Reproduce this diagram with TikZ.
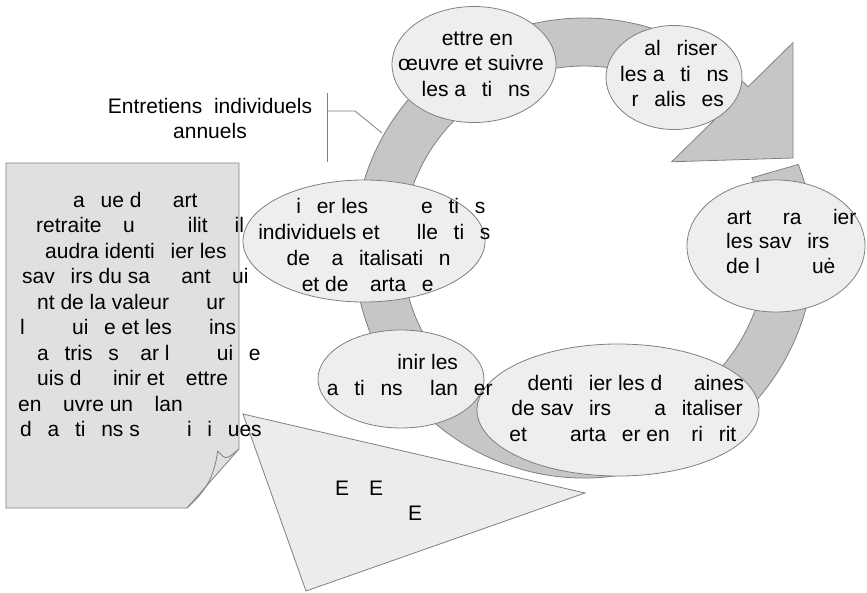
\documentclass[tikz,border=0pt]{standalone}
\usepackage{fontspec}
\setmainfont{Liberation Sans}
\usetikzlibrary{shapes.geometric}
\definecolor{linegray}{RGB}{128,128,128}
\definecolor{bubblefill}{RGB}{238,238,238}
\definecolor{bandfill}{RGB}{198,198,198}
\definecolor{boxfill}{RGB}{224,224,224}
\definecolor{trifill}{RGB}{236,236,236}
% gap of n blank glyph cells
\newcommand\gp[1]{\hspace*{#1\dimexpr 15.75pt\relax}}
\begin{document}
\begin{tikzpicture}[x=1pt,y=-1pt,
  outl/.style={draw=linegray, line width=0.8pt},
  bubble/.style={ellipse, outl, fill=bubblefill, inner sep=0pt},
  txt/.style={font=\fontsize{21}{25.5}\selectfont, inner sep=0pt, anchor=base},
  txtl/.style={txt, anchor=base west}]
\useasboundingbox (0,0) rectangle (867,592);

% circular band arrow
\coordinate (ctr) at (584,248);
\path[outl, fill=bandfill]
  ([shift={(ctr)}]-21.3:230) arc[start angle=-21.3, end angle=315.5, radius=230]
  -- ([shift={(ctr)}]315.5:293)
  -- ([shift={(ctr)}]336.7:227.6)
  -- ([shift={(ctr)}]315.5:123)
  -- ([shift={(ctr)}]315.5:182)
  arc[start angle=315.5, end angle=-22.7, radius=182] -- cycle;

% stage bubbles
\node[bubble, minimum width=164pt, minimum height=116pt] (e1) at (474,64.5) {};
\node[bubble, minimum width=136pt, minimum height=104pt] (e2) at (674,77.5) {};
\node[bubble, minimum width=178pt, minimum height=132pt] (e3) at (776,246) {};
\node[bubble, minimum width=242pt, minimum height=122pt] (e6) at (364,241) {};
\node[bubble, minimum width=166pt, minimum height=98pt] (e5) at (401,379) {};
\node[bubble, minimum width=282pt, minimum height=132pt] (e4) at (618,410) {};

% callout bracket
\coordinate (cTop) at (327,93);
\coordinate (cBot) at (327,162);
\coordinate (cMid) at (327,111);
\coordinate (cElb) at (355,111);
\coordinate (cEnd) at (382,133);
\draw[linegray, line width=0.8pt] (cTop) -- (cBot);
\draw[linegray, line width=0.8pt] (cMid) -- (cElb) -- (cEnd);

% note sheet with folded corner
\coordinate (fTop) at (239,449);
\coordinate (fLow) at (187,508);
\coordinate (fIn) at (217.7,451);
\draw[outl, fill=boxfill] (6,163) -- (239,163) -- (fTop) -- (fLow) -- (6,508) -- cycle;
\draw[outl] (fIn) .. controls (226,460) .. (fTop);
\draw[outl] (fIn) .. controls (214,478) and (205,492) .. (fLow);

% pointer triangle
\draw[outl, fill=trifill] (243,414) -- (585,493) -- (306,591) -- cycle;

% texts
\node[txt] (lab1) at (210,113.5) {Entretiens\ \ individuels};
\node[txt] (lab2) at (210,138) {annuels};

\node[txt] (e1a) at (469.5,45) {\gp{1}ettre en};
\node[txt] (e1b) at (471,70.5) {œuvre et suivre};
\node[txt] (e1c) at (476,96) {les a\gp{1}ti\gp{1}ns};

\node[txt] (e2a) at (673,55.5) {\gp{1}al\gp{1}riser};
\node[txt] (e2b) at (674.5,81) {les a\gp{1}ti\gp{1}ns};
\node[txt] (e2c) at (677.7,106.5) {r\gp{1}alis\gp{1}es};

\node[txtl] (e3a) at (726.7,224) {art\gp{2}ra\gp{2}ier};
\node[txtl] (e3b) at (726,248.5) {les sav\gp{1}irs};
\node[txtl] (e3c) at (726,273) {de l\hspace*{52pt}uė};

\node[txt] (e4a) at (628,390.5) {\gp{1}denti\gp{1}ier les d\gp{2}aines};
\node[txt] (e4b) at (627,415.75) {de sav\gp{1}irs \gp{1} \gp{1}a\gp{1}italiser};
\node[txt] (e4c) at (630.7,441) {et \gp{1} \gp{1}arta\gp{1}er en \gp{1}ri\gp{1}rit\gp{1}};

\node[txt] (e5a) at (404,369) {\gp{3}inir les};
\node[txt] (e5b) at (409.7,395) {a\gp{1}ti\gp{1}ns \gp{1} lan\gp{1}er};

\node[txt] (e6a) at (383,213.5) {\gp{1}i\gp{1}er les \gp{3}e\gp{1}ti\gp{1}s};
\node[txt] (e6b) at (374.4,239.5) {individuels et \gp{2}lle\gp{1}ti\gp{1}s};
\node[txt] (e6c) at (368.7,265.5) {de \gp{1}a\gp{1}italisati\gp{1}n};
\node[txt] (e6d) at (367.7,291) {et de \gp{1}arta\gp{1}e};

\node[txtl] (n1) at (73,207) {a\gp{1}ue d\gp{2}art};
\node[txtl] (n2) at (36,232.5) {retraite \gp{1}u \gp{3}ilit\hspace*{27pt}il};
\node[txtl] (n3) at (45,258) {audra identi\gp{1}ier les};
\node[txtl] (n4) at (22,283.5) {sav\gp{1}irs du sa\gp{2}ant \gp{1}ui};
\node[txtl] (n5) at (37,309) {nt de la valeur \gp{2}ur};
\node[txtl] (n6) at (20,334.5) {l\gp{3}ui\gp{1}e et les \gp{2}ins};
\node[txtl] (n7) at (37,360) {a\gp{1}tris\gp{1}s \gp{1}ar l\gp{3}ui\gp{1}e};
\node[txtl] (n8) at (37,385.5) {uis d\gp{2}inir et \gp{1}ettre};
\node[txtl] (n9) at (18,411) {en \gp{1}uvre un \gp{1}lan};
\node[txtl] (n10) at (20,436.5) {d\gp{1}a\gp{1}ti\gp{1}ns s\gp{3}i\gp{1}i\gp{1}ues};

\node[txtl] (t1) at (335,495.5) {E\hspace*{20pt}E};
\node[txtl] (t2) at (408,520.5) {E};
\end{tikzpicture}
\end{document}
